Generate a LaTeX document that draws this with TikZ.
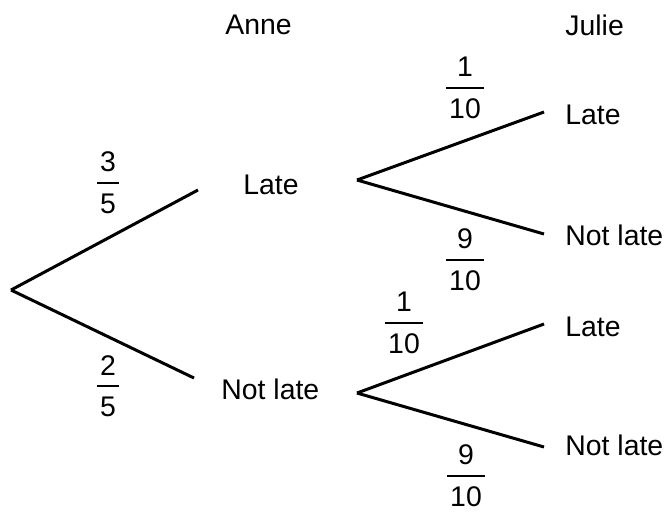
\documentclass[tikz,border=0pt]{standalone}
\usepackage{fontspec}
\setmainfont{Liberation Sans}
% fraction with the bar and gaps of the drawing
\newcommand{\probfrac}[2]{%
  \vbox{\offinterlineskip
    \halign{\hfil\kern1.5pt##\kern1.5pt\hfil\cr
      #1\cr
      \noalign{\kern5.1pt\hrule height 0.8pt\kern5.1pt}
      #2\cr}}}
\tikzset{
  branch/.style={line width=1.5pt},
  outcome/.style={inner sep=0pt, anchor=west, font=\fontsize{14.2}{17}\selectfont},
  prob/.style={inner sep=0pt, font=\fontsize{14.2}{17}\selectfont}
}

\begin{document}
\begin{tikzpicture}[x=0.5pt, y=-0.5pt]
            \useasboundingbox (0,0) rectangle (669,511);
            % headings
            \node[outcome] (anne)  at (225, 25) {Anne};
            \node[outcome] (julie) at (565, 25) {Julie};
            % Anne
            \coordinate (root)   at ( 11,290);
            \coordinate (aLend)  at (198,190);
            \coordinate (aNend)  at (194,378);
            \node[outcome] (aLate) at (243,185) {Late};
            \node[outcome] (aNot)  at (221,389) {Not late};
            \draw[branch] (root) -- (aLend);
            \draw[branch] (root) -- (aNend);
            \node[prob] (pAL) at (108,183) {\probfrac{3}{5}};
            \node[prob] (pAN) at (108,386) {\probfrac{2}{5}};
            % Julie after Anne late
            \coordinate (jTop)    at (357,180);
            \coordinate (jTLend)  at (544,112);
            \coordinate (jTNend)  at (544,234);
            \node[outcome] (jTLate) at (565,115) {Late};
            \node[outcome] (jTNot)  at (565,235) {Not late};
            \draw[branch] (jTop) -- (jTLend);
            \draw[branch] (jTop) -- (jTNend);
            \node[prob] (pTL) at (465, 88) {\probfrac{1}{10}};
            \node[prob] (pTN) at (465,260) {\probfrac{9}{10}};
            % Julie after Anne not late
            \coordinate (jBot)    at (357,393);
            \coordinate (jBLend)  at (544,324);
            \coordinate (jBNend)  at (544,447);
            \node[outcome] (jBLate) at (565,327) {Late};
            \node[outcome] (jBNot)  at (565,445) {Not late};
            \draw[branch] (jBot) -- (jBLend);
            \draw[branch] (jBot) -- (jBNend);
            \node[prob] (pBL) at (404,323) {\probfrac{1}{10}};
            \node[prob] (pBN) at (466,476) {\probfrac{9}{10}};
\end{tikzpicture}
\end{document}
